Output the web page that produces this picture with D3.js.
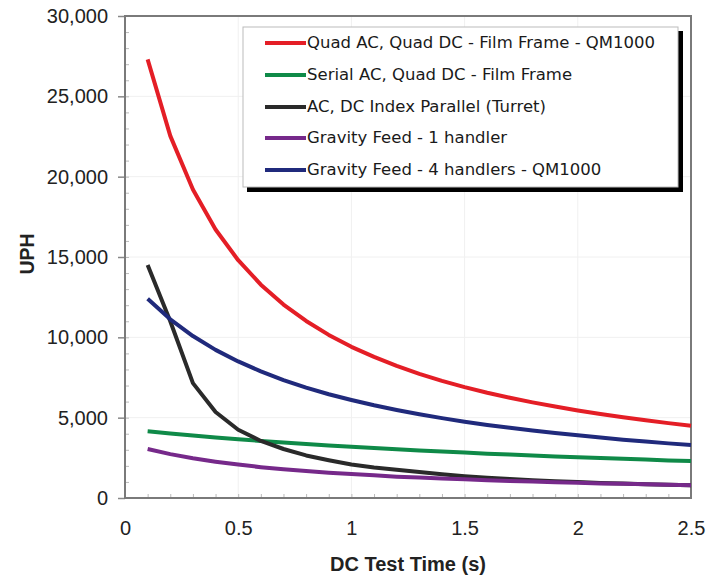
<!DOCTYPE html>
<html><head><meta charset="utf-8">
<script src="https://cdn.jsdelivr.net/npm/d3@7"></script>
<style>body{margin:0;background:#fff}</style>
</head><body>
<svg id="c" width="717" height="579"></svg>
<script>
const times = [0.1,0.2,0.3,0.4,0.5,0.6,0.7,0.8,0.9,1.0,1.1,1.2,1.3,1.4,1.5,1.6,1.7,1.8,1.9,2.0,2.1,2.2,2.3,2.4,2.5];
const seriesNames = [
  "Quad AC, Quad DC - Film Frame - QM1000",
  "Serial AC, Quad DC - Film Frame",
  "AC, DC Index Parallel (Turret)",
  "Gravity Feed - 1 handler",
  "Gravity Feed - 4 handlers - QM1000"
];
const quadFilm   = [27300,22540,19200,16710,14800,13280,12040,11020,10150,9410,8780,8220,7730,7290,6900,6550,6240,5950,5690,5450,5230,5030,4840,4660,4500];
const serialFilm = [4150,4020,3890,3770,3660,3550,3460,3360,3270,3190,3110,3030,2960,2890,2830,2760,2700,2640,2590,2540,2490,2440,2390,2340,2300];
const turret     = [14500,11000,7150,5350,4250,3550,3050,2650,2350,2080,1900,1760,1620,1480,1360,1260,1180,1110,1050,990,940,900,860,830,800];
const gravity1   = [3050,2730,2470,2260,2080,1920,1790,1680,1570,1490,1410,1330,1270,1210,1160,1110,1060,1020,980,950,910,880,850,830,800];
const gravity4   = [12400,11120,10080,9220,8500,7880,7340,6870,6460,6100,5770,5480,5210,4970,4750,4550,4370,4200,4040,3900,3760,3630,3520,3400,3300];
const xTicks = [0,0.5,1,1.5,2,2.5];
const xTickLabels = ["0","0.5","1","1.5","2","2.5"];
const yTicks = [0,5000,10000,15000,20000,25000,30000];
const yTickLabels = ["0","5,000","10,000","15,000","20,000","25,000","30,000"];
const xTitle = "DC Test Time (s)";
const yTitle = "UPH";

const colors = ["#e41e26","#0f8a48","#2a2a2a","#76298a","#202a7c"];
const allSeries = [quadFilm, serialFilm, turret, gravity1, gravity4];

const svg = d3.select("#c");
const L = 125, T = 16, R = 691, B = 498;
const x = d3.scaleLinear().domain([0,2.5]).range([L,R]);
const y = d3.scaleLinear().domain([0,30000]).range([B,T]);

// faint grid
const g = svg.append("g");
g.selectAll("line.gy").data(yTicks.slice(1,-1)).join("line")
  .attr("x1",L).attr("x2",R).attr("y1",d=>y(d)).attr("y2",d=>y(d))
  .attr("stroke","#f0f0f0").attr("stroke-width",1);
g.selectAll("line.gx").data(xTicks.slice(1,-1)).join("line")
  .attr("y1",T).attr("y2",B).attr("x1",d=>x(d)).attr("x2",d=>x(d))
  .attr("stroke","#f0f0f0").attr("stroke-width",1);

// minor ticks
const minorX = d3.range(1,25).map(i=>i/10);
const minorY = d3.range(1,30).map(i=>i*1000);
svg.append("g").attr("transform",`translate(0,${B})`)
  .call(d3.axisBottom(x).tickValues(minorX).tickSize(-4).tickFormat(""))
  .call(a=>a.select(".domain").remove())
  .call(a=>a.selectAll("line").attr("stroke","#bbb"));
svg.append("g").attr("transform",`translate(${L},0)`)
  .call(d3.axisLeft(y).tickValues(minorY).tickSize(-4).tickFormat(""))
  .call(a=>a.select(".domain").remove())
  .call(a=>a.selectAll("line").attr("stroke","#bbb"));

// major axes
const fontTick = "'Liberation Sans', Arial, sans-serif";
svg.append("g").attr("transform",`translate(0,${B})`)
  .call(d3.axisBottom(x).tickValues(xTicks).tickSize(0).tickPadding(23).tickFormat((d,i)=>xTickLabels[i]))
  .call(a=>a.select(".domain").remove())
  .call(a=>a.selectAll("text").attr("font-family",fontTick).attr("font-size","20px").attr("fill","#222"));
svg.append("g").attr("transform",`translate(${L},0)`)
  .call(d3.axisLeft(y).tickValues(yTicks).tickSize(7).tickPadding(10).tickFormat((d,i)=>yTickLabels[i]))
  .call(a=>a.select(".domain").remove())
  .call(a=>a.selectAll("line").attr("stroke","#888").attr("stroke-width",1.5))
  .call(a=>a.selectAll("text").attr("font-family",fontTick).attr("font-size","20px").attr("fill","#222"));

// frame
svg.append("rect").attr("x",L).attr("y",T).attr("width",R-L).attr("height",B-T)
  .attr("fill","none").attr("stroke","#7a7a7a").attr("stroke-width",2);

// lines
const line = d3.line().x((d,i)=>x(times[i])).y(d=>y(d));
svg.append("g").selectAll("path").data(allSeries).join("path")
  .attr("d",line).attr("fill","none")
  .attr("stroke",(d,i)=>colors[i]).attr("stroke-width",4)
  .attr("stroke-linejoin","round").attr("stroke-linecap","butt");

// legend
const lg = svg.append("g");
lg.append("rect").attr("x",247).attr("y",31).attr("width",436).attr("height",161).attr("fill","#000");
lg.append("rect").attr("x",243).attr("y",27).attr("width",435).attr("height",160)
  .attr("fill","#fff").attr("stroke","#bbb").attr("stroke-width",1);
const rowY = [43,75,107,138,170];
seriesNames.forEach((n,i)=>{
  lg.append("line").attr("x1",265).attr("x2",306).attr("y1",rowY[i]).attr("y2",rowY[i])
    .attr("stroke",colors[i]).attr("stroke-width",4);
  lg.append("text").attr("x",307).attr("y",rowY[i]).attr("dy","0.33em")
    .attr("font-family","'DejaVu Sans', Verdana, sans-serif").attr("font-size","16.5px").attr("fill","#1a1a1a")
    .text(n);
});

// titles
svg.append("text").attr("x",(L+R)/2).attr("y",571).attr("text-anchor","middle")
  .attr("font-family",fontTick).attr("font-weight","bold").attr("font-size","20px").attr("fill","#222")
  .text(xTitle);
svg.append("text").attr("transform",`translate(34,254) rotate(-90)`).attr("text-anchor","middle")
  .attr("font-family",fontTick).attr("font-weight","bold").attr("font-size","19.5px").attr("fill","#222")
  .text(yTitle);
</script>
</body></html>
